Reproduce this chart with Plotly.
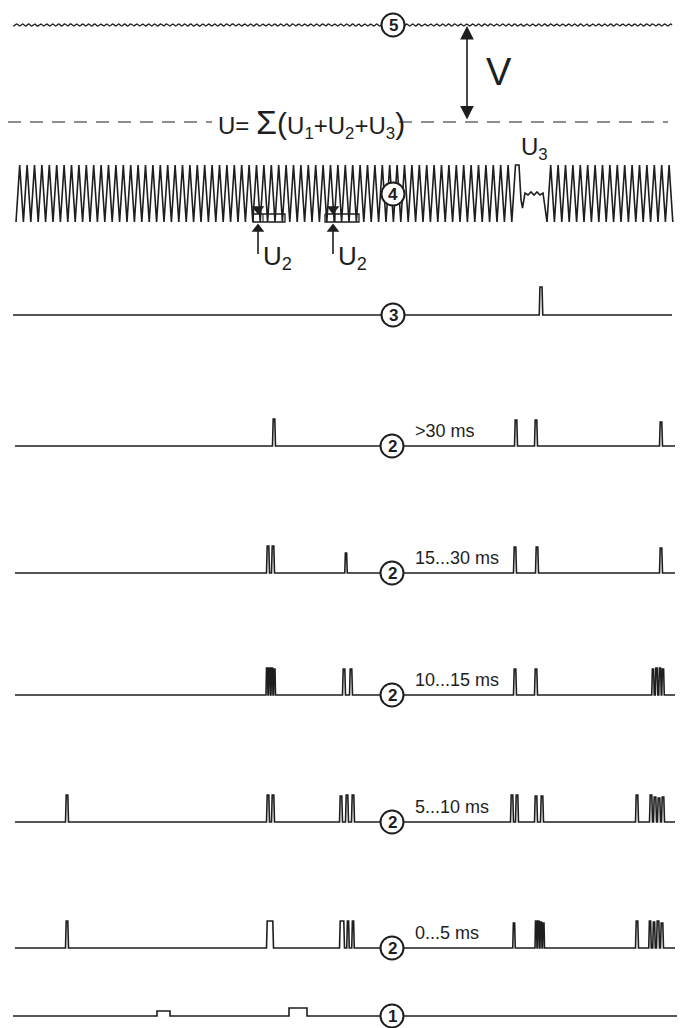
import numpy as np
import plotly.graph_objects as go

W, H = 688, 1028
INK = "#1e1e1e"
FONT = "Liberation Sans, DejaVu Sans, sans-serif"

# ---------------- data (time axis in drawing units) ----------------
# trace 5 : reference oscillation (small ripple)
t5_start, t5_end = 13, 672
t5_period, t5_ripple = 6.0, 1.1

# trace 4 : carrier oscillation, interrupted at U3
t4_segments = [(16, 519), (547, 675)]
t4_period = 7.4
t4_swing = 57                      # peak-to-peak
u3_gap_t = [519, 521, 522.5, 525, 528, 531, 534, 537, 540, 543, 547]
u3_gap_v = [57, 22, 14, 29, 27, 30, 27, 30, 27, 29, 0]   # height above bottom

# trace 3 : single pulse
t3_pulses = [(541, 3.5, 28)]       # (time, width, height)

# trace 2 : pulse trains for five duration classes
band_labels = [">30 ms", "15...30 ms", "10...15 ms", "5...10 ms", "0...5 ms"]
band_pulses = [
    [(274, 3, 27), (516, 3, 26), (536, 3, 26), (661, 3, 24)],
    [(268, 3, 27), (273, 3, 27), (346, 2.5, 20), (515, 3, 26), (537, 3, 26), (661, 3, 25)],
    [(267, 2, 27), (269.5, 2, 27), (272, 2, 27), (274.5, 2, 26), (344, 3, 26), (351, 3, 26),
     (515, 3, 26), (536, 3, 26), (653, 2.5, 26), (656.5, 2.5, 27), (660, 2.5, 27), (663, 2.5, 26)],
    [(67, 3, 27), (268, 3, 27), (273, 3, 27), (341, 3, 26), (347, 3, 27), (353, 3, 27),
     (512, 3, 27), (517, 3, 27), (536, 3, 26), (542, 3, 26), (637, 3, 27), (651, 3, 27),
     (655, 3, 25), (659, 3, 24), (663, 3, 25)],
    [(67, 3, 27), (270, 7, 27), (342, 5, 27), (348, 2.5, 27), (353, 2.5, 27), (514, 2.5, 25),
     (536, 2, 27), (538.5, 2, 27), (541, 2, 26), (543.5, 2, 25), (637, 3, 27), (650, 2.5, 27),
     (654, 2.5, 26), (658, 3, 27), (662, 3, 25)],
]

# trace 1 : rectangular gate pulses (start, end, height)
t1_pulses = [(157, 170, 5), (289, 307, 8)]

# U2 markers on trace 4
u2_marks = [(258, 253, 285), (333, 325, 359)]   # (arrow time, bracket start, bracket end)

# ---------------- layout positions ----------------
Y5, YU, Y4_TOP, Y3 = 25, 122, 165, 315
Y4_BOT = Y4_TOP + t4_swing
Y2 = [446, 573, 695, 822, 948]
Y1 = 1016
CX = 392
R = 11.5

fig = go.Figure()


def add_line(xs, ys, width=1.6, dash=None):
    fig.add_trace(go.Scatter(x=xs, y=ys, mode="lines",
                             line=dict(color=INK, width=width, dash=dash),
                             hoverinfo="skip"))


def pulse_train(base, pulses, x0, x1):
    xs, ys = [x0], [base]
    for c, w, h in sorted(pulses):
        a, b = c - w / 2, c + w / 2
        r = min(0.7, w / 4)
        xs += [a, a + r, b - r, b]
        ys += [base, base - h, base - h, base]
    xs.append(x1)
    ys.append(base)
    return xs, ys


# trace 5
x5 = np.linspace(t5_start, t5_end, 900)
add_line(x5, Y5 + t5_ripple * np.sin(2 * np.pi * x5 / t5_period), width=1.3)

# dashed U line
add_line([8, 212], [YU, YU], width=1.2, dash="13px,9px")
add_line([399, 668], [YU, YU], width=1.2, dash="13px,9px")

# trace 4
x4, y4 = [], []
(a1, b1), (a2, b2) = t4_segments
k = 0
while a1 + k * t4_period / 2 <= b1:
    x4.append(a1 + k * t4_period / 2)
    y4.append(Y4_BOT if k % 2 == 0 else Y4_TOP)
    k += 1
x4 += u3_gap_t
y4 += [Y4_BOT - v for v in u3_gap_v]
k = 1
while a2 + k * t4_period / 2 <= b2:
    x4.append(a2 + k * t4_period / 2)
    y4.append(Y4_TOP if k % 2 == 1 else Y4_BOT)
    k += 1
add_line(x4, y4, width=1.6)

# trace 3
xs, ys = pulse_train(Y3, t3_pulses, 13, 672)
add_line(xs, ys)

# trace 2 bands
for base, pulses in zip(Y2, band_pulses):
    xs, ys = pulse_train(base, pulses, 15, 675)
    add_line(xs, ys)

# trace 1
xs, ys = [13], [Y1]
for s, e, h in t1_pulses:
    xs += [s, s, e, e]
    ys += [Y1, Y1 - h, Y1 - h, Y1]
xs.append(677)
ys.append(Y1)
add_line(xs, ys)

# U2 markers: brackets, triangles, arrows
for ax_, bs, be in u2_marks:
    add_line([bs, be, be, bs, bs], [214, 214, 222, 222, 214], width=1.3)
    add_line([bs + 10, bs + 10], [214, 222], width=1.1)
    add_line([ax_, ax_], [254, 228], width=1.6)
    fig.add_trace(go.Scatter(x=[ax_], y=[209], mode="markers",
                             marker=dict(symbol="triangle-down", size=11, color=INK),
                             hoverinfo="skip"))
    fig.add_trace(go.Scatter(x=[ax_], y=[229], mode="markers",
                             marker=dict(symbol="triangle-up", size=11, color=INK),
                             hoverinfo="skip"))

shapes = []
circle_specs = [(CX + 1, Y5, "5"), (CX + 1, 194, "4"), (CX + 1, Y3, "3")]
circle_specs += [(CX, y, "2") for y in Y2]
circle_specs += [(CX, Y1, "1")]
annotations = []
for cx, cy, lab in circle_specs:
    shapes.append(dict(type="circle", xref="x", yref="y", x0=cx - R, x1=cx + R,
                       y0=cy - R, y1=cy + R, fillcolor="white",
                       line=dict(color=INK, width=2), layer="above"))
    annotations.append(dict(x=cx, y=cy, text="<b>" + lab + "</b>", showarrow=False,
                            font=dict(family=FONT, size=17, color=INK),
                            xanchor="center", yanchor="middle"))

# band labels
for base, lab in zip(Y2, band_labels):
    annotations.append(dict(x=413, y=base - 3, text=lab, showarrow=False,
                            font=dict(family=FONT, size=18, color=INK),
                            xanchor="left", yanchor="bottom"))

# V double arrow
annotations.append(dict(x=467, y=Y5 + 1, ax=467, ay=YU - 1, xref="x", yref="y",
                        axref="x", ayref="y", text="", showarrow=True,
                        arrowhead=2, startarrowhead=2, arrowside="end+start",
                        arrowsize=1.7, startarrowsize=1.7, arrowwidth=1.6, arrowcolor=INK))
annotations.append(dict(x=484, y=72, text="V", showarrow=False, xanchor="left",
                        font=dict(family=FONT, size=38, color=INK)))

# U formula
annotations.append(dict(x=216, y=YU + 1,
                        text="U= <span style='font-size:34px'>Σ</span><span style='font-size:30px'>(</span>U<sub>1</sub>+U<sub>2</sub>+U<sub>3</sub><span style='font-size:30px'>)</span>",
                        showarrow=False, font=dict(family=FONT, size=24, color=INK),
                        xanchor="left", yanchor="middle"))
# U3 label
annotations.append(dict(x=519, y=148, text="U<sub>3</sub>", showarrow=False,
                        xanchor="left", font=dict(family=FONT, size=24, color=INK)))
# U2 labels
for ax_, bs, be in u2_marks:
    annotations.append(dict(x=ax_ + 3, y=257, text="U<sub>2</sub>", showarrow=False,
                            xanchor="left", font=dict(family=FONT, size=26, color=INK)))

fig.update_layout(
    width=W, height=H, margin=dict(l=0, r=0, t=0, b=0),
    paper_bgcolor="white", plot_bgcolor="white", showlegend=False,
    xaxis=dict(range=[0, W], visible=False, fixedrange=True),
    yaxis=dict(range=[H, 0], visible=False, fixedrange=True),
    shapes=shapes, annotations=annotations,
)
fig.write_html("out.html", config={"displayModeBar": False},
               post_script="document.body.style.margin='0';document.body.style.overflow='hidden';")
